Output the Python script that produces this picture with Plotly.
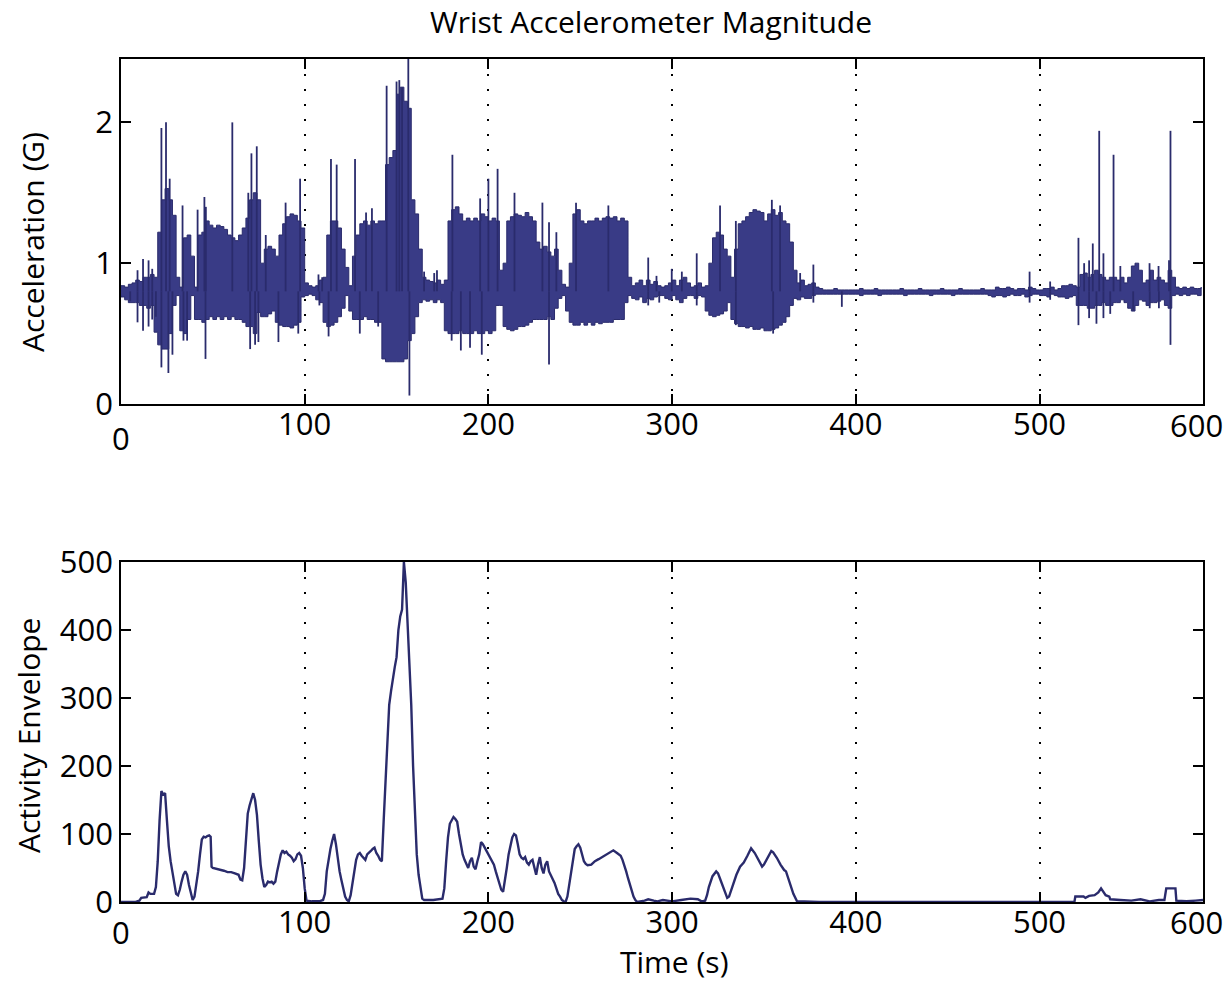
import plotly.graph_objects as go

# ---------------- wrist accelerometer magnitude (G) ----------------
# envelope of the raw signal sampled every 2 s (upper / lower extent)
t_acc = list(range(0, 590, 2))

acc_hi = [
    0.84, 0.83, 0.85, 0.86, 0.88, 0.87, 0.90, 0.90, 0.92, 0.90,   # 0-18
    1.22, 1.45, 1.53, 1.45, 1.34, 0.90, 0.83, 1.18, 1.20, 1.05,   # 20-38
    0.83, 1.20, 1.22, 1.30, 1.27, 1.25, 1.27, 1.26, 1.24, 1.20,   # 40-58
    1.18, 1.16, 1.20, 1.25, 1.32, 1.45, 1.50, 1.45, 1.00, 1.10,   # 60-78
    1.12, 1.10, 1.05, 1.20, 1.28, 1.33, 1.35, 1.34, 1.30, 1.25,   # 80-98
    0.86, 0.84, 0.83, 0.84, 0.88, 0.90, 1.20, 1.30, 1.30, 1.25,   # 100-118
    1.10, 0.97, 0.84, 1.05, 1.20, 1.28, 1.30, 1.27, 1.30, 1.28,   # 120-138
    1.30, 1.30, 1.70, 1.75, 1.80, 2.20, 2.25, 2.15, 2.10, 1.45,   # 140-158
    1.35, 1.10, 0.90, 0.88, 0.87, 0.86, 0.88, 0.85, 0.88, 1.30,   # 160-178
    1.38, 1.40, 1.35, 1.30, 1.32, 1.30, 1.32, 1.30, 1.35, 1.33,   # 180-198
    1.30, 1.32, 1.30, 0.95, 1.00, 1.30, 1.33, 1.35, 1.34, 1.33,   # 200-218
    1.36, 1.33, 1.30, 1.15, 1.10, 1.12, 1.08, 1.05, 1.10, 0.95,   # 220-238
    0.85, 0.83, 1.00, 1.35, 1.38, 1.30, 1.28, 1.30, 1.30, 1.32,   # 240-258
    1.30, 1.32, 1.33, 1.32, 1.33, 1.30, 1.32, 1.30, 0.90, 0.84,   # 260-278
    0.86, 0.88, 0.84, 0.88, 0.85, 0.87, 0.84, 0.83, 0.84, 0.86,   # 280-298
    0.88, 0.84, 0.88, 0.90, 0.86, 0.83, 0.84, 0.86, 0.83, 0.84,   # 300-318
    1.00, 1.18, 1.22, 1.20, 1.10, 1.05, 0.90, 1.10, 1.28, 1.30,   # 320-338
    1.33, 1.36, 1.38, 1.37, 1.36, 1.30, 1.35, 1.38, 1.34, 1.36,   # 340-358
    1.30, 1.28, 1.15, 0.95, 0.86, 0.88, 0.84, 0.85, 0.86, 0.83,   # 360-378
    0.82, 0.81, 0.81, 0.81, 0.82, 0.81, 0.81, 0.81, 0.81, 0.81,   # 380-398
    0.81, 0.82, 0.81, 0.81, 0.81, 0.82, 0.81, 0.81, 0.81, 0.81,   # 400-418
    0.81, 0.81, 0.82, 0.81, 0.81, 0.81, 0.81, 0.82, 0.81, 0.81,   # 420-438
    0.81, 0.81, 0.81, 0.82, 0.81, 0.81, 0.81, 0.81, 0.82, 0.81,   # 440-458
    0.81, 0.81, 0.81, 0.81, 0.82, 0.81, 0.81, 0.81, 0.83, 0.82,   # 460-478
    0.82, 0.83, 0.82, 0.81, 0.82, 0.82, 0.81, 0.83, 0.82, 0.81,   # 480-498
    0.81, 0.82, 0.82, 0.83, 0.81, 0.82, 0.84, 0.84, 0.85, 0.84,   # 500-518
    0.83, 0.92, 0.93, 0.90, 0.92, 0.95, 0.92, 0.90, 0.88, 0.90,   # 520-538
    0.90, 0.88, 0.90, 0.86, 0.90, 0.98, 1.00, 0.95, 0.86, 0.88,   # 540-558
    0.95, 0.88, 0.90, 0.88, 0.86, 0.95, 0.90, 0.83, 0.82, 0.83,   # 560-578
    0.82, 0.83, 0.82, 0.82, 0.83,                                 # 580-588
]

acc_lo = [
    0.77, 0.76, 0.74, 0.72, 0.72, 0.72, 0.70, 0.70, 0.68, 0.70,
    0.51, 0.42, 0.39, 0.39, 0.50, 0.70, 0.77, 0.52, 0.50, 0.60,
    0.77, 0.60, 0.60, 0.58, 0.60, 0.62, 0.60, 0.62, 0.60, 0.62,
    0.60, 0.62, 0.60, 0.60, 0.58, 0.55, 0.55, 0.50, 0.65, 0.62,
    0.62, 0.64, 0.66, 0.58, 0.56, 0.55, 0.55, 0.54, 0.56, 0.58,
    0.76, 0.77, 0.78, 0.77, 0.74, 0.72, 0.58, 0.55, 0.56, 0.58,
    0.62, 0.68, 0.77, 0.66, 0.60, 0.60, 0.60, 0.62, 0.60, 0.60,
    0.58, 0.58, 0.32, 0.30, 0.30, 0.30, 0.30, 0.30, 0.32, 0.45,
    0.50, 0.62, 0.72, 0.74, 0.73, 0.74, 0.72, 0.74, 0.72, 0.52,
    0.50, 0.50, 0.50, 0.52, 0.50, 0.50, 0.50, 0.52, 0.50, 0.50,
    0.52, 0.50, 0.52, 0.70, 0.70, 0.55, 0.53, 0.52, 0.53, 0.55,
    0.55, 0.56, 0.58, 0.60, 0.60, 0.60, 0.60, 0.62, 0.60, 0.68,
    0.75, 0.77, 0.66, 0.58, 0.56, 0.56, 0.58, 0.56, 0.58, 0.56,
    0.58, 0.57, 0.58, 0.58, 0.58, 0.60, 0.60, 0.60, 0.72, 0.77,
    0.75, 0.74, 0.76, 0.72, 0.75, 0.74, 0.76, 0.77, 0.77, 0.75,
    0.74, 0.77, 0.74, 0.72, 0.75, 0.77, 0.77, 0.75, 0.77, 0.76,
    0.66, 0.63, 0.62, 0.63, 0.64, 0.66, 0.72, 0.60, 0.57, 0.55,
    0.55, 0.54, 0.55, 0.53, 0.53, 0.54, 0.52, 0.52, 0.53, 0.54,
    0.56, 0.58, 0.62, 0.70, 0.75, 0.74, 0.76, 0.75, 0.75, 0.77,
    0.78, 0.78, 0.78, 0.78, 0.78, 0.78, 0.78, 0.78, 0.78, 0.78,
    0.78, 0.78, 0.77, 0.78, 0.78, 0.78, 0.78, 0.77, 0.78, 0.78,
    0.78, 0.78, 0.78, 0.78, 0.77, 0.78, 0.78, 0.78, 0.78, 0.78,
    0.78, 0.77, 0.78, 0.78, 0.78, 0.78, 0.78, 0.77, 0.78, 0.78,
    0.78, 0.78, 0.78, 0.78, 0.78, 0.78, 0.78, 0.77, 0.76, 0.77,
    0.77, 0.76, 0.77, 0.78, 0.77, 0.77, 0.78, 0.76, 0.77, 0.78,
    0.78, 0.77, 0.77, 0.76, 0.78, 0.77, 0.76, 0.76, 0.75, 0.76,
    0.77, 0.70, 0.70, 0.70, 0.68, 0.68, 0.70, 0.70, 0.72, 0.70,
    0.70, 0.72, 0.72, 0.74, 0.72, 0.68, 0.66, 0.70, 0.74, 0.73,
    0.70, 0.72, 0.72, 0.73, 0.74, 0.70, 0.68, 0.77, 0.78, 0.77,
    0.78, 0.77, 0.78, 0.78, 0.77,
]

# isolated peaks that rise above / drop below the envelope
spike_up_t = [9, 12, 15, 17, 22, 24.5, 26.5, 33.5, 41.7, 45.4, 46.2, 60.6, 69.3,
              71, 73.9, 78.8, 89.6, 97.5, 107.5, 109.5, 114.3, 117.4, 127.4,
              133.4, 136.6, 144.6, 150, 151.5, 153, 156.4, 165, 170.5, 172,
              180.4, 195.5, 200, 205, 214.2, 229.4, 233, 237, 247.7, 265.3, 287,
              291.5, 299.8, 305.3, 313.4, 326.1, 334.7, 354.3, 358.8, 369.7,
              376.9, 494.6, 505.8, 521.2, 524.3, 527, 529, 532.5, 534.8, 540.3,
              544, 559.9, 564.8, 570.5, 571.3]
spike_up_v = [0.95, 1.03, 1.02, 0.96, 1.96, 2.00, 1.60, 1.41, 1.38, 1.47, 1.40,
              2.00, 1.50, 1.78, 1.83, 1.20, 1.43, 1.60, 0.92, 0.90, 1.74, 1.70,
              1.74, 1.36, 1.39, 2.26, 2.29, 2.30, 2.25, 2.45, 0.94, 0.93, 0.95,
              1.77, 1.46, 1.60, 1.67, 1.50, 1.43, 1.29, 1.22, 1.43, 1.41, 1.04,
              0.91, 0.96, 0.94, 1.07, 1.41, 1.30, 1.45, 1.41, 0.93, 0.99, 0.94,
              0.87, 1.18, 1.00, 1.02, 1.14, 1.94, 1.07, 1.77, 0.98, 1.00, 0.98,
              1.02, 1.94]
spike_dn_t = [5, 9, 12, 15, 17, 19, 22, 25.8, 28, 34, 36, 46, 70.3, 73, 74.8, 85.7,
              96.5, 108, 113, 130, 140, 157, 180, 185, 190, 196.4, 233, 287, 293,
              313.4, 334.7, 355, 376.9, 392.4, 494.6, 505.8, 521.2, 527, 531,
              534.8, 538.5, 551, 560, 565, 571.3]
spike_dn_v = [0.73, 0.58, 0.52, 0.55, 0.60, 0.62, 0.26, 0.22, 0.35, 0.45, 0.45,
              0.32, 0.39, 0.42, 0.44, 0.44, 0.50, 0.70, 0.48, 0.50, 0.55, 0.06,
              0.45, 0.38, 0.40, 0.35, 0.28, 0.70, 0.72, 0.70, 0.56, 0.50, 0.72,
              0.69, 0.72, 0.74, 0.56, 0.61, 0.57, 0.61, 0.64, 0.66, 0.68, 0.68,
              0.42]

# ---------------- activity envelope ----------------
env_t = [0, 8, 10, 11, 14, 15, 16, 18, 19, 20, 21, 22, 23, 24, 25, 26, 27, 28, 29,
         30, 31, 32, 33, 34, 35, 36, 37, 38, 39, 40, 41, 42, 43, 44, 45, 46, 47,
         48, 48.8, 49.3, 50, 52, 54, 56, 58, 60, 62, 64, 65, 66, 67, 68, 69, 70,
         71, 72, 73, 74, 75, 76, 77, 78, 79, 80, 81, 82, 83, 84, 85, 86, 87, 88,
         89, 90, 91, 92, 93, 94, 95, 96, 97, 98, 99, 100, 101, 104, 108, 110, 111,
         112, 113, 114, 115, 116, 117, 118, 119, 120, 121, 122, 123, 124, 125, 126,
         127, 128, 129, 130, 131, 132, 133, 134, 135, 136, 137, 138, 139, 140, 141,
         142, 143, 144, 145, 146, 147, 148, 149, 150, 151, 152, 153, 154, 155, 156,
         157, 158, 159, 160, 161, 162, 163, 164, 165, 170, 175, 176, 177, 178, 179,
         180, 181, 182, 183, 184, 185, 186, 187, 188, 189, 190, 191, 192, 193, 194,
         195, 196, 197, 198, 199, 200, 201, 202, 203, 204, 205, 206, 207, 208, 209,
         210, 211, 212, 213, 214, 215, 216, 217, 218, 219, 220, 221, 222, 223, 224,
         225, 226, 227, 228, 229, 230, 231, 232, 233, 234, 235, 236, 237, 238, 239,
         240, 241, 242, 243, 244, 245, 246, 247, 248, 249, 250, 251, 252, 253, 254,
         256, 258, 260, 262, 264, 266, 268, 270, 272, 273, 274, 275, 276, 277, 278,
         279, 280, 281, 285, 287, 290, 292, 295, 298, 300, 305, 310, 314, 316, 318,
         319, 320, 322, 324, 325, 326, 328, 330, 331, 333, 335, 337, 339, 341, 343,
         345, 347, 349, 350, 352, 354, 355, 357, 359, 361, 362, 364, 366, 368, 380,
         400, 450, 500, 519, 519.5, 524, 525, 527, 530, 532, 533.5, 535, 536, 538,
         538.5, 544, 550, 555, 560, 565, 568, 569, 574, 574.5, 580, 585, 588, 589]
env_v = [0, 0, 2, 6, 7, 14, 12, 12, 22, 60, 120, 163, 158, 160, 120, 82, 60, 42, 25,
         12, 10, 18, 30, 40, 45, 40, 25, 12, 3, 8, 25, 45, 70, 92, 96, 95, 97,
         98, 96, 52, 50, 49, 47, 46, 44, 44, 42, 40, 33, 32, 50, 90, 130, 142,
         150, 160, 150, 128, 90, 55, 35, 22, 25, 30, 29, 30, 27, 30, 45, 60, 70, 76,
         72, 74, 70, 68, 65, 60, 63, 70, 72, 68, 50, 20, 2, 1, 1, 3, 12,
         45, 65, 78, 90, 100, 85, 60, 45, 32, 18, 8, 3, 1, 10, 30,
         50, 62, 70, 72, 68, 65, 62, 70, 72, 75, 78, 80, 72, 68, 62,
         60, 120, 180, 240, 290, 310, 330, 345, 360, 400, 420, 430, 500, 470, 410,
         350, 290, 200, 120, 70, 40, 20, 5, 3, 3, 5, 20, 60, 95, 115,
         120, 125, 122, 118, 100, 85, 70, 62, 55, 50, 60, 65, 52, 48, 60,
         70, 88, 85, 80, 75, 70, 65, 62, 55, 45, 35, 25, 18, 15, 30,
         50, 70, 85, 95, 100, 98, 85, 70, 65, 63, 66, 58, 55, 60, 62,
         50, 40, 55, 66, 50, 42, 55, 60, 45, 40, 35, 28, 20, 12, 8,
         3, 1, 0, 8, 25, 45, 65, 78, 82, 85, 80, 68, 60, 56, 54,
         55, 60, 63, 66, 70, 73, 76, 72, 68, 62, 55, 45, 35, 25, 15,
         8, 3, 0, 2, 4, 2, 1, 3, 2, 1, 3, 5, 4, 1, 2,
         10, 22, 38, 45, 42, 35, 20, 6, 8, 25, 40, 52, 58, 68, 79,
         72, 62, 52, 55, 65, 75, 73, 65, 55, 47, 45, 28, 12, 1, 0,
         0, 0, 0, 0, 8, 8, 6, 9, 10, 14, 20, 14, 10, 8,
         4, 3, 2, 4, 1, 3, 3, 20, 20, 2, 1, 2, 3, 3]

# the time axis ends at 589 s; its corner labels are set as text further down
x_tickvals = [0, 100, 200, 300, 400, 500, 589]
x_ticktext = ["", "100", "200", "300", "400", "500", ""]

FONT = "Open Sans"
INK = "#2a2b6c"
FILL = "#393b86"
W, H = 1230, 985
TICK_SIZE = 31


def px_x(p):
    return p / W


def px_y(p):
    return (H - p) / H


fig = go.Figure()

# filled band between upper and lower envelope, drawn as steps
fig.add_trace(go.Scatter(
    x=t_acc + t_acc[::-1],
    y=acc_hi + acc_lo[::-1],
    mode="lines", fill="toself", fillcolor=FILL,
    line=dict(color=INK, width=1, shape="hv"),
    xaxis="x", yaxis="y", hoverinfo="skip",
))

# individual peaks as thin vertical strokes
sx, sy = [], []
for t, v in zip(spike_up_t + spike_dn_t, spike_up_v + spike_dn_v):
    sx += [t, t, None]
    sy += [0.8, v, None]
fig.add_trace(go.Scatter(
    x=sx, y=sy, mode="lines",
    line=dict(color=INK, width=1.8),
    xaxis="x", yaxis="y", hoverinfo="skip",
))

fig.add_trace(go.Scatter(
    x=env_t, y=env_v, mode="lines",
    line=dict(color=INK, width=2.4),
    xaxis="x2", yaxis="y2",
))

axis_common = dict(
    showline=True, linecolor="black", linewidth=1.5, mirror="allticks",
    ticks="inside", ticklen=10, tickwidth=1.5, tickcolor="black",
    zeroline=False, automargin=False,
    tickfont=dict(family=FONT, size=TICK_SIZE, color="black"),
)

xdom = [px_x(121), px_x(1203)]
xaxis_cfg = dict(
    axis_common, domain=xdom, range=[0, 589],
    tickmode="array", tickvals=x_tickvals, ticktext=x_ticktext,
    ticklabelstandoff=-8,
    showgrid=True, gridcolor="black", gridwidth=1.5, griddash="2px,13px",
)

fig.update_layout(
    width=W, height=H,
    margin=dict(l=0, r=0, t=0, b=0, autoexpand=False),
    paper_bgcolor="white", plot_bgcolor="white",
    showlegend=False,
    xaxis=dict(xaxis_cfg, anchor="y"),
    yaxis=dict(axis_common, domain=[px_y(404), px_y(59)], range=[0, 2.45],
               tickmode="array", tickvals=[0, 1, 2], showgrid=False, anchor="x"),
    xaxis2=dict(xaxis_cfg, anchor="y2"),
    yaxis2=dict(axis_common, domain=[px_y(902), px_y(562)], range=[0, 500],
                tickmode="array", tickvals=[0, 100, 200, 300, 400, 500],
                showgrid=False, anchor="x2"),
)

labels = [
    ("Wrist Accelerometer Magnitude", 651, 22, 0, 30),
    ("Acceleration (G)", 33, 242, -90, 30),
    ("Activity Envelope", 28, 736, -90, 30),
    ("Time (s)", 674, 961, 0, 30),
    ("0", 121, 438, 0, TICK_SIZE),
    ("600", 1196, 425, 0, TICK_SIZE),
    ("0", 121, 932, 0, TICK_SIZE),
    ("600", 1196, 922, 0, TICK_SIZE),
]
for text, x, y, ang, size in labels:
    fig.add_annotation(
        text=text, x=px_x(x), y=px_y(y), xref="paper", yref="paper",
        xanchor="center", yanchor="middle", textangle=ang, showarrow=False,
        font=dict(family=FONT, size=size, color="black"),
    )

fig.write_html("out.html")
